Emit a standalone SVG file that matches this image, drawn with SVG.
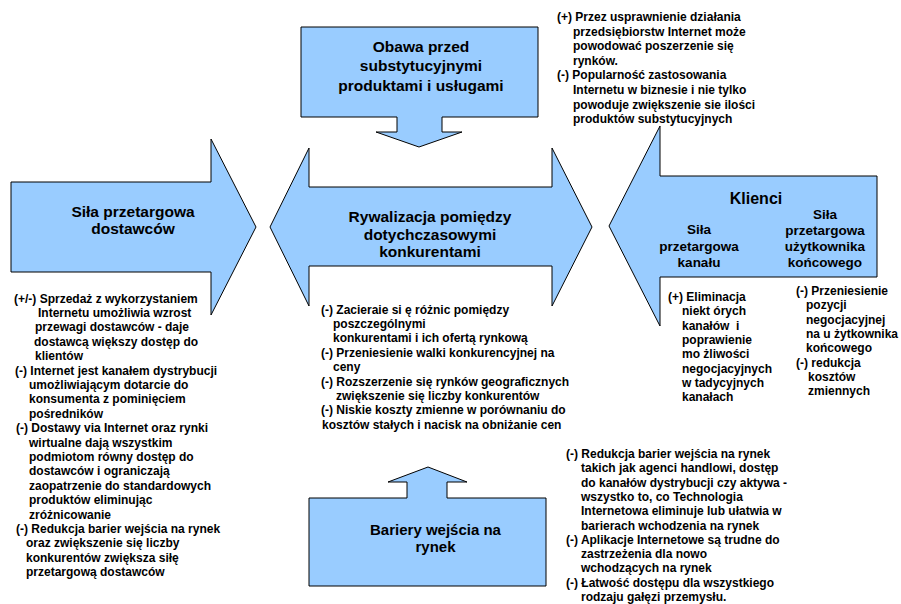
<svg xmlns="http://www.w3.org/2000/svg" width="901" height="604" viewBox="0 0 901 604">
<style>
.shape{fill:#99CCFF;stroke:#000;stroke-width:1}
.lbl{font-family:"Liberation Sans",Arial,sans-serif;font-weight:bold;font-size:15.5px;fill:#000;text-anchor:middle}
.sub{font-family:"Liberation Sans",Arial,sans-serif;font-weight:bold;font-size:13.5px;fill:#000;text-anchor:middle}
.txt{font-family:"Liberation Sans",Arial,sans-serif;font-weight:bold;font-size:12px;fill:#000;white-space:pre}
</style>
<rect width="901" height="604" fill="#fff"/>
<g id="connectors"/>
<g id="substytuty">
<path class="shape" d="M301,27 H538 V117 H442 V132 H462 L419,147 L376,132 H397 V117 H301 Z"/>
<text class="lbl"><tspan x="421" y="51.5">Obawa przed</tspan><tspan x="421" y="71">substytucyjnymi</tspan><tspan x="421" y="90.5">produktami i usługami</tspan></text>
</g>
<g id="dostawcy">
<path class="shape" d="M11,182 H211 V139 L256,227 L211,315 V272 H11 Z"/>
<text class="lbl"><tspan x="133" y="216.5">Siła przetargowa</tspan><tspan x="133" y="233.5">dostawców</tspan></text>
</g>
<g id="rywalizacja">
<path class="shape" d="M270,227 L309,148 V187 H552 V148 L592,227 L552,306 V266 H309 V306 Z"/>
<text class="lbl"><tspan x="430" y="222">Rywalizacja pomiędzy</tspan><tspan x="430" y="239.5">dotychczasowymi</tspan><tspan x="430" y="257">konkurentami</tspan></text>
</g>
<g id="klienci">
<path class="shape" d="M609,226 L660,126 V176 H877 V277 H660 V326 Z"/>
<text class="lbl" style="font-size:16px"><tspan x="756" y="204">Klienci</tspan></text>
<text class="sub"><tspan x="699" y="234">Siła</tspan><tspan x="699" y="250.5">przetargowa</tspan><tspan x="699" y="266.5">kanału</tspan></text>
<text class="sub"><tspan x="825" y="218.5">Siła</tspan><tspan x="825" y="234.5">przetargowa</tspan><tspan x="825" y="250.5">użytkownika</tspan><tspan x="825" y="266.5">końcowego</tspan></text>
</g>
<g id="bariery">
<path class="shape" d="M309,498 H407 V482 H388 L428,467 L467,482 H447 V498 H546 V586 H309 Z"/>
<text class="lbl" style="font-size:15px"><tspan x="435.5" y="535">Bariery wejścia na</tspan><tspan x="435.5" y="551.5">rynek</tspan></text>
</g>
<g id="opis-substytuty">
<text class="txt"><tspan x="557" y="21">(+) Przez usprawnienie działania</tspan><tspan x="573" y="35.6">przedsiębiorstw Internet może</tspan><tspan x="573" y="50.2">powodować poszerzenie się</tspan><tspan x="573" y="64.8">rynków.</tspan><tspan x="557" y="79.4">(-) Popularność zastosowania</tspan><tspan x="573" y="94">Internetu w biznesie i nie tylko</tspan><tspan x="573" y="108.6">powoduje zwiększenie sie ilości</tspan><tspan x="573" y="123.2">produktów substytucyjnych</tspan></text>
</g>
<g id="opis-dostawcy">
<text class="txt"><tspan x="14" y="302.5">(+/-) Sprzedaż z wykorzystaniem</tspan><tspan x="38" y="316.9">Internetu umożliwia wzrost</tspan><tspan x="35" y="331.3">przewagi dostawców - daje</tspan><tspan x="34" y="345.7">dostawcą większy dostęp do</tspan><tspan x="35" y="360.1">klientów</tspan><tspan x="15" y="374.5">(-) Internet jest kanałem dystrybucji</tspan><tspan x="29" y="388.9">umożliwiającym dotarcie do</tspan><tspan x="29" y="403.3">konsumenta z pominięciem</tspan><tspan x="29" y="417.7">pośredników</tspan><tspan x="16" y="432.1">(-) Dostawy via Internet oraz rynki</tspan><tspan x="29" y="446.5">wirtualne dają wszystkim</tspan><tspan x="29" y="460.9">podmiotom równy dostęp do</tspan><tspan x="29" y="475.3">dostawców i ograniczają</tspan><tspan x="29" y="489.7">zaopatrzenie do standardowych</tspan><tspan x="29" y="504.1">produktów eliminując</tspan><tspan x="29" y="518.5">zróżnicowanie</tspan><tspan x="16" y="532.9">(-) Redukcja barier wejścia na rynek</tspan><tspan x="26" y="547.3">oraz zwiększenie się liczby</tspan><tspan x="26" y="561.7">konkurentów zwiększa siłę</tspan><tspan x="26" y="576.1">przetargową dostawców</tspan></text>
</g>
<g id="opis-rywalizacja">
<text class="txt"><tspan x="321" y="313.5">(-) Zacieraie si ę różnic pomiędzy</tspan><tspan x="333" y="327.9">poszczególnymi</tspan><tspan x="333" y="342.3">konkurentami i ich ofertą rynkową</tspan><tspan x="321" y="356.7">(-) Przeniesienie walki konkurencyjnej na</tspan><tspan x="333" y="371.1">ceny</tspan><tspan x="321" y="385.5">(-) Rozszerzenie się rynków geograficznych</tspan><tspan x="336" y="399.9">zwiększenie się liczby konkurentów</tspan><tspan x="321" y="414.3">(-) Niskie koszty zmienne w porównaniu do</tspan><tspan x="322" y="428.7">kosztów stałych i nacisk na obniżanie cen</tspan></text>
</g>
<g id="opis-kanal">
<text class="txt"><tspan x="668" y="301">(+) Eliminacja</tspan><tspan x="682" y="315.3">niekt órych</tspan><tspan x="682" y="329.6">kanałów  i</tspan><tspan x="682" y="343.9">poprawienie</tspan><tspan x="682" y="358.2">mo żliwości</tspan><tspan x="682" y="372.5">negocjacyjnych</tspan><tspan x="682" y="386.8">w tadycyjnych</tspan><tspan x="682" y="401.1">kanałach</tspan></text>
</g>
<g id="opis-uzytkownik">
<text class="txt"><tspan x="796" y="295">(-) Przeniesienie</tspan><tspan x="806" y="309.3">pozycji</tspan><tspan x="806" y="323.6">negocjacyjnej</tspan><tspan x="806" y="337.9">na u żytkownika</tspan><tspan x="806" y="352.2">końcowego</tspan><tspan x="796" y="366.5">(-) redukcja</tspan><tspan x="808" y="380.8">kosztów</tspan><tspan x="808" y="395.1">zmiennych</tspan></text>
</g>
<g id="opis-bariery">
<text class="txt"><tspan x="566" y="458">(-) Redukcja barier wejścia na rynek</tspan><tspan x="581" y="472.3">takich jak agenci handlowi, dostęp</tspan><tspan x="581" y="486.6">do kanałów dystrybucji czy aktywa -</tspan><tspan x="581" y="500.9">wszystko to, co Technologia</tspan><tspan x="581" y="515.2">Internetowa eliminuje lub ułatwia w</tspan><tspan x="581" y="529.5">barierach wchodzenia na rynek</tspan><tspan x="566" y="543.8">(-) Aplikacje Internetowe są trudne do</tspan><tspan x="581" y="558.1">zastrzeżenia dla nowo</tspan><tspan x="581" y="572.4">wchodzących na rynek</tspan><tspan x="566" y="586.7">(-) Łatwość dostępu dla wszystkiego</tspan><tspan x="581" y="601">rodzaju gałęzi przemysłu.</tspan></text>
</g>
</svg>
